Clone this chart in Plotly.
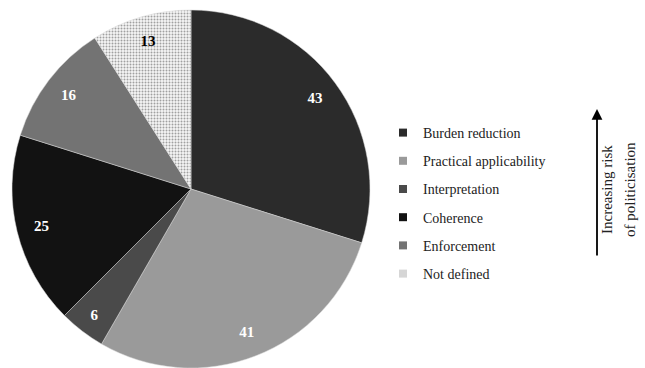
import plotly.graph_objects as go

categories = ["Burden reduction", "Practical applicability", "Interpretation",
              "Coherence", "Enforcement", "Not defined"]
values = [43, 41, 6, 25, 16, 13]
colors = ["#2b2b2b", "#9a9a9a", "#4a4a4a", "#121212", "#737373", "#f2f2f2"]
legend_colors = ["#2b2b2b", "#9a9a9a", "#4a4a4a", "#121212", "#737373", "#d6d6d6"]
text_colors = ["white", "white", "white", "white", "white", "black"]
side_lines = ["Increasing risk", "of politicisation"]

FONT = "Liberation Serif, Times New Roman, serif"

patterns = [""] * 5 + ["."]
dom = dict(x=[0.0186, 0.5736], y=[0, 1])

fig = go.Figure()
# slices
fig.add_trace(go.Pie(
    labels=categories, values=values, sort=False, direction="clockwise",
    rotation=0,
    marker=dict(colors=colors, line=dict(color="#d8d8d8", width=0.5),
                pattern=dict(shape=patterns, fgcolor="#a0a0a0", bgcolor="#f6f6f6",
                             size=3, solidity=0.35)),
    textinfo="none", domain=dom, showlegend=False, hoverinfo="label+value",
))
# value labels in the outer ring
fig.add_trace(go.Pie(
    labels=categories, values=values, sort=False, direction="clockwise",
    rotation=0, hole=0.72,
    marker=dict(colors=["rgba(0,0,0,0)"] * len(values), line=dict(width=0)),
    textinfo="value", textposition="inside", insidetextorientation="horizontal",
    textfont=dict(family=FONT, size=15, color=text_colors, weight="bold"),
    domain=dom, showlegend=False, hoverinfo="skip",
))

# legend entries
for c, col in zip(categories, legend_colors):
    fig.add_trace(go.Scatter(x=[None], y=[None], name=c, mode="markers",
                             marker=dict(symbol="square", size=8, color=col,
                                         line=dict(width=0)),
                             legendgroup=c, showlegend=True))

fig.add_annotation(
    xref="paper", yref="paper", x=597/645, y=1 - (109 - 10)/358,
    axref="pixel", ayref="pixel", ax=0, ay=148,
    showarrow=True, arrowhead=2, arrowsize=1.2, arrowwidth=1.8, arrowcolor="black",
    text="")
for line, xp in zip(side_lines, [607, 630]):
    fig.add_annotation(
        xref="paper", yref="paper", x=xp/645, y=1 - (190 - 10)/358,
        xanchor="center", yanchor="middle",
        text=line, showarrow=False, textangle=-90,
        font=dict(family=FONT, size=15, color="#222"))

fig.update_layout(
    width=645, height=368, margin=dict(l=0, r=0, t=10, b=0),
    paper_bgcolor="white", plot_bgcolor="white",
    xaxis=dict(visible=False), yaxis=dict(visible=False),
    legend=dict(x=383/645, y=1 - (117 - 10)/358, xanchor="left", yanchor="top",
                font=dict(family=FONT, size=14, color="#222"),
                tracegroupgap=7, itemwidth=30, bgcolor="rgba(0,0,0,0)"),
    font=dict(family=FONT),
)

fig.write_html("out.html")
